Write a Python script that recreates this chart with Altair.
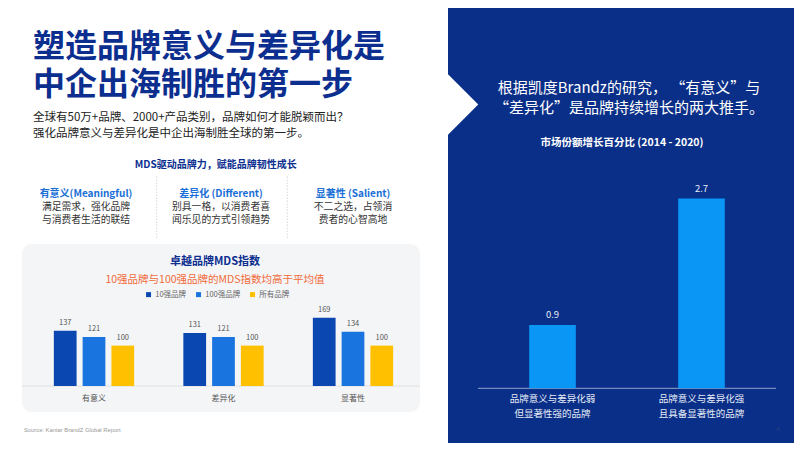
import altair as alt
import pandas as pd

CJK = "Noto Sans CJK SC"
OX, OY = 8, 8  # page margin offset

# ---- data: left grouped chart (MDS index)
categories = ["有意义", "差异化", "显著性"]
series = ["10强品牌", "100强品牌", "所有品牌"]
top10 = [137, 131, 169]
top100 = [121, 121, 134]
all_brands = [100, 100, 100]

# ---- data: right chart (market share growth)
groups = ["品牌意义与差异化弱\n但显著性强的品牌", "品牌意义与差异化强\n且具备显著性的品牌"]
growth = [0.9, 2.7]

TITLE_BLUE = "#0b2e8f"
PANEL_BLUE = "#0a2f88"
series_colors = ["#0a47b0", "#1a74e0", "#ffc000"]

rows = []
for i, c in enumerate(categories):
    for s, vals in zip(series, [top10, top100, all_brands]):
        rows.append({"category": c, "series": s, "value": vals[i]})
df_mds = pd.DataFrame(rows)
df_growth = pd.DataFrame({"group": groups, "growth": growth})


def txt(s, x, y, size, color, weight="normal", align="left", baseline="middle", font=CJK, **kw):
    return alt.Chart(pd.DataFrame({"t": [s]})).mark_text(
        x=x - OX, y=y - OY, fontSize=size, color=color, fontWeight=weight,
        align=align, baseline=baseline, font=font, **kw
    ).encode(text="t:N")


def rect(x1, x2, y1, y2, **kw):
    return alt.Chart(pd.DataFrame({"a": [0]})).mark_rect(**kw).encode(
        x=alt.value(x1 - OX), x2=alt.value(x2 - OX), y=alt.value(y1 - OY), y2=alt.value(y2 - OY)
    )


def hrule(x1, x2, y, **kw):
    return alt.Chart(pd.DataFrame({"a": [0]})).mark_rule(**kw).encode(
        x=alt.value(x1 - OX), x2=alt.value(x2 - OX), y=alt.value(y - OY)
    )


def vrule(x, y1, y2, **kw):
    return alt.Chart(pd.DataFrame({"a": [0]})).mark_rule(**kw).encode(
        x=alt.value(x - OX), y=alt.value(y1 - OY), y2=alt.value(y2 - OY)
    )


layers = []

# right blue panel + arrow notch
layers.append(rect(448, 810, 0, 460, color=PANEL_BLUE))
layers.append(
    alt.Chart(pd.DataFrame({"a": [0]})).mark_point(
        shape="M-0.5,-1L0.5,0L-0.5,1Z", size=3721, filled=True, color="white", opacity=1, strokeWidth=0
    ).encode(x=alt.value(463 - OX), y=alt.value(104.5 - OY))
)

# left texts
layers.append(txt("塑造品牌意义与差异化是", 33, 47, 32, TITLE_BLUE, weight="bold"))
layers.append(txt("中企出海制胜的第一步", 33, 84.5, 32, TITLE_BLUE, weight="bold"))
layers.append(txt("全球有50万+品牌、2000+产品类别，品牌如何才能脱颖而出？", 33, 117.5, 11.5, "#222222"))
layers.append(txt("强化品牌意义与差异化是中企出海制胜全球的第一步。", 33, 133.5, 11.5, "#222222"))
layers.append(txt("MDS驱动品牌力，赋能品牌韧性成长", 215.7, 165, 10, TITLE_BLUE, weight="bold", align="center"))

cols = [
    (86, "有意义(Meaningful)", "满足需求，强化品牌", "与消费者生活的联结"),
    (221, "差异化 (Different)", "别具一格，以消费者喜", "闻乐见的方式引领趋势"),
    (353, "显著性 (Salient)", "不二之选，占领消", "费者的心智高地"),
]
for cx, head, l1, l2 in cols:
    layers.append(txt(head, cx, 194.3, 10, "#1a6fd6", weight="bold", align="center"))
    layers.append(txt(l1, cx, 207.3, 9.8, "#333333", align="center"))
    layers.append(txt(l2, cx, 219.8, 9.8, "#333333", align="center"))
for sx in [156.7, 287.3]:
    layers.append(vrule(sx, 176.7, 238.3, color="#c4c4c4", strokeDash=[1, 2], strokeWidth=1))

# gray box for MDS chart
layers.append(rect(22, 420, 244, 412, color="#f4f5f7", cornerRadius=10))
layers.append(txt("卓越品牌MDS指数", 215, 262, 11, TITLE_BLUE, weight="bold", align="center"))
layers.append(txt("10强品牌与100强品牌的MDS指数均高于平均值", 215, 279.5, 10.5, "#f26b3a", align="center"))
layers.append(hrule(22, 420, 386, color="#e0e0e0", strokeWidth=1))

x_left = alt.Scale(domain=categories, range=[29.25 - OX, 417.75 - OX], paddingInner=0.38, paddingOuter=0.19)
xo_left = alt.Scale(domain=series, paddingInner=0.21, paddingOuter=0)
y_left = alt.Scale(domain=[0, 200], range=[386 - OY, 386 - OY - 80.8], zero=True)

bars_left = alt.Chart(df_mds).mark_bar().encode(
    x=alt.X("category:N", sort=categories, axis=None, scale=x_left),
    xOffset=alt.XOffset("series:N", sort=series, scale=xo_left),
    y=alt.Y("value:Q", axis=None, scale=y_left),
    color=alt.Color(
        "series:N", sort=series,
        scale=alt.Scale(domain=series, range=series_colors),
        legend=alt.Legend(
            orient="none", direction="horizontal", title=None,
            legendX=144.8 - OX, legendY=290.5 - OY,
            symbolType="square", symbolSize=25, symbolStrokeWidth=0,
            labelFontSize=7.5, labelColor="#666666", labelFont=CJK,
            columnPadding=8, labelOffset=3, padding=0,
        ),
    ),
)
labels_left = alt.Chart(df_mds).mark_text(
    dy=-8, fontSize=7.5, color="#555555", font=CJK, baseline="middle"
).encode(
    x=alt.X("category:N", sort=categories, axis=None, scale=x_left),
    xOffset=alt.XOffset("series:N", sort=series, scale=xo_left),
    y=alt.Y("value:Q", axis=None, scale=y_left),
    text=alt.Text("value:Q"),
)
cat_left = alt.Chart(pd.DataFrame({"category": categories})).mark_text(
    fontSize=8, color="#555555", font=CJK, baseline="middle"
).encode(
    x=alt.X("category:N", sort=categories, axis=None, scale=x_left),
    y=alt.value(398.5 - OY),
    text="category:N",
)
layers += [bars_left, labels_left, cat_left]
layers.append(txt("Source: Kantar BrandZ Global Report", 24, 430, 5.8, "#999999", font="Liberation Sans"))

# right texts
layers.append(txt("根据凯度Brandz的研究，  “有意义”与", 629, 88.3, 15, "#ffffff", align="center"))
layers.append(txt("“差异化”是品牌持续增长的两大推手。", 629, 108, 15, "#ffffff", align="center"))
layers.append(txt("市场份额增长百分比 (2014 - 2020)", 622, 143.3, 10.5, "#ffffff", weight="bold", align="center"))
layers.append(hrule(478, 776, 388.3, color="#8fa3cc", strokeWidth=1))

x_right = alt.Scale(domain=groups, range=[478 - OX, 776 - OX], paddingInner=0.687, paddingOuter=0.3435)
y_right = alt.Scale(domain=[0, 3], range=[388.3 - OY, 388.3 - OY - 210.8], zero=True)

bars_right = alt.Chart(df_growth).mark_bar(color="#0a96f5").encode(
    x=alt.X("group:N", sort=groups, axis=None, scale=x_right),
    y=alt.Y("growth:Q", axis=None, scale=y_right),
)
labels_right = alt.Chart(df_growth).mark_text(
    dy=-10, fontSize=9.5, color="#e6ecf7", font=CJK, baseline="middle"
).encode(
    x=alt.X("group:N", sort=groups, axis=None, scale=x_right),
    y=alt.Y("growth:Q", axis=None, scale=y_right),
    text=alt.Text("growth:Q", format=".1f"),
)
cat_right = alt.Chart(df_growth).mark_text(
    fontSize=9.5, color="#e6ecf7", font=CJK, baseline="top", lineBreak="\n", lineHeight=15.5
).encode(
    x=alt.X("group:N", sort=groups, axis=None, scale=x_right),
    y=alt.value(393.5 - OY),
    text="group:N",
)
layers += [bars_right, labels_right, cat_right]
layers.append(txt("4", 778, 429, 6, "#2a3f7a", align="center", font="Liberation Sans"))

chart = (
    alt.layer(*layers)
    .resolve_scale(x="independent", y="independent")
    .properties(width=786, height=435, padding=0, autosize=alt.AutoSizeParams(type="none"), background="white")
    .configure_view(strokeWidth=0)
)

chart.save("out.html", embed_options={"renderer": "svg", "actions": False})
